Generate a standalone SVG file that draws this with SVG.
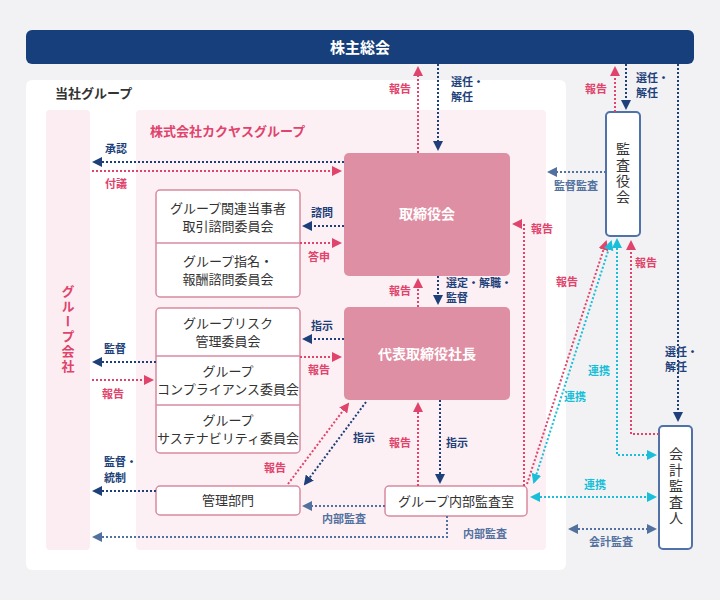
<svg xmlns="http://www.w3.org/2000/svg" width="720" height="600" viewBox="0 0 720 600">
<style>
text{font-family:"Noto Sans CJK JP","Noto Sans",sans-serif}
.l{font-size:11px;font-weight:bold}
.nv{fill:#1d3f7a}.pk{fill:#e0436b}.cy{fill:#19bfd8}.bg{fill:#52719f}
.n{stroke:#1d3f7a}.p{stroke:#e0436b}.c{stroke:#19bfd8}.g{stroke:#52719f}
.d{fill:none;stroke-width:2;stroke-dasharray:2 2}
.bx{fill:#fff;stroke:#d98aa0;stroke-width:1.5}
.bt{font-size:13px;fill:#333;text-anchor:middle}
.rd{fill:#df8fa3}
.wt{font-size:14px;font-weight:bold;fill:#fff;text-anchor:middle}
.vt{writing-mode:tb;text-anchor:middle;letter-spacing:2px}
</style>
<defs>
<marker id="an" viewBox="0 0 10 10" refX="8" refY="5" markerWidth="5" markerHeight="5" orient="auto-start-reverse"><path d="M0 0L10 5L0 10z" fill="#1d3f7a"/></marker>
<marker id="ap" viewBox="0 0 10 10" refX="8" refY="5" markerWidth="5" markerHeight="5" orient="auto-start-reverse"><path d="M0 0L10 5L0 10z" fill="#e0436b"/></marker>
<marker id="ac" viewBox="0 0 10 10" refX="8" refY="5" markerWidth="5" markerHeight="5" orient="auto-start-reverse"><path d="M0 0L10 5L0 10z" fill="#19bfd8"/></marker>
<marker id="ag" viewBox="0 0 10 10" refX="8" refY="5" markerWidth="5" markerHeight="5" orient="auto-start-reverse"><path d="M0 0L10 5L0 10z" fill="#52719f"/></marker>
</defs>
<rect width="720" height="600" fill="#f2f2f4"/>
<rect x="26" y="80" width="540" height="490" rx="6" fill="#fff"/>
<text x="55" y="98" font-size="13" font-weight="bold" fill="#333">当社グループ</text>
<rect x="46" y="110" width="44" height="440" rx="4" fill="#fcedf2"/>
<rect x="136" y="110" width="410" height="440" rx="4" fill="#fdf0f4"/>
<text x="150" y="136" font-size="13" font-weight="bold" class="pk">株式会社カクヤスグループ</text>
<g id="kabunushi"><rect x="26" y="30" width="668" height="34" rx="6" fill="#173f7c"/><text x="360" y="53" font-size="15" font-weight="bold" fill="#fff" text-anchor="middle">株主総会</text></g>
<g id="groupco"><text class="vt pk" x="68" y="330" font-size="13" font-weight="bold">グループ会社</text></g>
<g id="torishimari"><rect class="rd" x="344" y="153" width="166" height="123" rx="5"/><text class="wt" x="427" y="219">取締役会</text></g>
<g id="shacho"><rect class="rd" x="344" y="307" width="166" height="93" rx="5"/><text class="wt" x="427" y="359">代表取締役社長</text></g>
<g id="iinkai1"><rect class="bx" x="156" y="190" width="144" height="107" rx="4"/><line x1="156" y1="243" x2="300" y2="243" stroke="#d98aa0" stroke-width="1.5"/>
<text class="bt" x="228" y="213">グループ関連当事者</text><text class="bt" x="228" y="231">取引諮問委員会</text>
<text class="bt" x="228" y="266">グループ指名・</text><text class="bt" x="228" y="284">報酬諮問委員会</text></g>
<g id="iinkai2"><rect class="bx" x="156" y="308" width="144" height="145" rx="4"/><line x1="156" y1="356" x2="300" y2="356" stroke="#d98aa0" stroke-width="1.5"/><line x1="156" y1="405" x2="300" y2="405" stroke="#d98aa0" stroke-width="1.5"/>
<text class="bt" x="228" y="328">グループリスク</text><text class="bt" x="228" y="346">管理委員会</text>
<text class="bt" x="228" y="376">グループ</text><text class="bt" x="228" y="394">コンプライアンス委員会</text>
<text class="bt" x="228" y="425">グループ</text><text class="bt" x="228" y="443">サステナビリティ委員会</text></g>
<g id="kanri"><rect class="bx" x="156" y="486" width="144" height="29" rx="4"/><text class="bt" x="228" y="505">管理部門</text></g>
<g id="naibu"><rect class="bx" x="385" y="486" width="142" height="30" rx="4"/><text class="bt" x="456" y="506">グループ内部監査室</text></g>
<g id="kansayaku"><rect x="606" y="112" width="34" height="124" rx="4" fill="#fff" stroke="#4f72a8" stroke-width="2"/><text class="vt" x="623" y="174" font-size="14" fill="#333">監査役会</text></g>
<g id="kaikei"><rect x="659" y="426" width="33" height="123" rx="4" fill="#fff" stroke="#4f72a8" stroke-width="2"/><text class="vt" x="676" y="487" font-size="14" fill="#333">会計監査人</text></g>
<g id="connectors">
<path class="d p" d="M418 153V68" marker-end="url(#ap)"/>
<path class="d n" d="M438 64V149" marker-end="url(#an)"/>
<path class="d p" d="M615 112V68" marker-end="url(#ap)"/>
<path class="d n" d="M626 64V108" marker-end="url(#an)"/>
<path class="d n" d="M678 64V420" marker-end="url(#an)"/>
<path class="d n" d="M344 162H94" marker-end="url(#an)"/>
<path class="d p" d="M92 171H340" marker-end="url(#ap)"/>
<path class="d n" d="M344 226H304" marker-end="url(#an)"/>
<path class="d p" d="M300 243H340" marker-end="url(#ap)"/>
<path class="d n" d="M344 339H304" marker-end="url(#an)"/>
<path class="d p" d="M300 357H340" marker-end="url(#ap)"/>
<path class="d n" d="M156 362H94" marker-end="url(#an)"/>
<path class="d p" d="M92 380H152" marker-end="url(#ap)"/>
<path class="d n" d="M156 491H94" marker-end="url(#an)"/>
<path class="d g" d="M606 172H549" marker-end="url(#ag)"/>
<path class="d p" d="M524 486V224H514" marker-end="url(#ap)"/>
<path class="d p" d="M418 307V280" marker-end="url(#ap)"/>
<path class="d n" d="M438 276V303" marker-end="url(#an)"/>
<path class="d p" d="M288 484L348 404" marker-end="url(#ap)"/>
<path class="d n" d="M366 402L305 484" marker-end="url(#an)"/>
<path class="d p" d="M418 486V404" marker-end="url(#ap)"/>
<path class="d n" d="M440 400V482" marker-end="url(#an)"/>
<path class="d g" d="M385 506H304" marker-end="url(#ag)"/>
<path class="d g" d="M447 516V537H94" marker-end="url(#ag)"/>
<path class="d p" d="M527 484L606 242" marker-end="url(#ap)"/>
<path class="d c" d="M534 482L611 242" marker-start="url(#ac)" marker-end="url(#ac)"/>
<path class="d c" d="M617 240V455H655" marker-start="url(#ac)" marker-end="url(#ac)"/>
<path class="d p" d="M659 434H631V242" marker-end="url(#ap)"/>
<path class="d c" d="M532 497H655" marker-start="url(#ac)" marker-end="url(#ac)"/>
<path class="d g" d="M570 529H655" marker-start="url(#ag)" marker-end="url(#ag)"/>
</g>
<g id="labels">
<text class="l pk" x="389" y="93">報告</text>
<text class="l nv" x="451" y="86">選任・</text><text class="l nv" x="451" y="101">解任</text>
<text class="l pk" x="585" y="93">報告</text>
<text class="l nv" x="636" y="82">選任・</text><text class="l nv" x="636" y="97">解任</text>
<text class="l nv" x="665" y="356">選任・</text><text class="l nv" x="665" y="371">解任</text>
<text class="l nv" x="105" y="153">承認</text>
<text class="l pk" x="105" y="188">付議</text>
<text class="l nv" x="311" y="217">諮問</text>
<text class="l pk" x="308" y="261">答申</text>
<text class="l nv" x="311" y="330">指示</text>
<text class="l pk" x="308" y="374">報告</text>
<text class="l nv" x="104" y="353">監督</text>
<text class="l pk" x="102" y="398">報告</text>
<text class="l nv" x="104" y="466">監督・</text><text class="l nv" x="104" y="482">統制</text>
<text class="l bg" x="554" y="190">監督監査</text>
<text class="l pk" x="531" y="233">報告</text>
<text class="l pk" x="389" y="295">報告</text>
<text class="l nv" x="446" y="287" font-size="10.5">選定・解職・</text><text class="l nv" x="446" y="302" font-size="10.5">監督</text>
<text class="l pk" x="264" y="472">報告</text>
<text class="l nv" x="353" y="442">指示</text>
<text class="l pk" x="389" y="447">報告</text>
<text class="l nv" x="446" y="447">指示</text>
<text class="l bg" x="322" y="523">内部監査</text>
<text class="l bg" x="463" y="538">内部監査</text>
<text class="l pk" x="556" y="286">報告</text>
<text class="l pk" x="635" y="267">報告</text>
<text class="l cy" x="588" y="375">連携</text>
<text class="l cy" x="564" y="401">連携</text>
<text class="l cy" x="584" y="489">連携</text>
<text class="l bg" x="589" y="546">会計監査</text>
</g>
</svg>
